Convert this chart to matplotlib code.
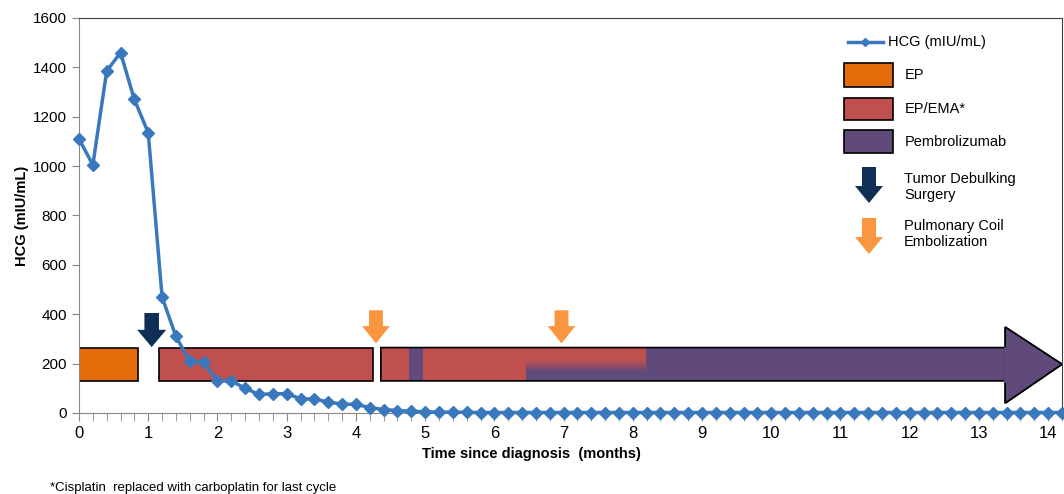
import matplotlib.pyplot as plt
from matplotlib.patches import Polygon, Rectangle
from matplotlib.lines import Line2D
import numpy as np

plt.rcParams['font.family'] = ['Liberation Sans', 'DejaVu Sans']

# HCG measurements, one every 0.2 months
months = [round(0.2 * i, 1) for i in range(72)]
hcg = [1110, 1005, 1385, 1460, 1270, 1135, 470, 310, 210, 205,
       130, 130, 100, 75, 78, 78, 58, 56, 45, 36,
       35, 22, 14, 10, 7, 5, 4, 3, 3, 2] + [2] * 42

# treatment periods (start, end) in months
ep_periods = [(0.0, 0.85)]
epema_periods = [(1.16, 4.25), (4.36, 4.77), (4.97, 6.45)]
pembro_periods = [(4.77, 4.97), (8.18, 13.38)]
overlap_periods = [(6.45, 8.18)]   # EP/EMA fading into pembrolizumab
pembro_ongoing_end = 14.2
surgery_times = [1.05]
embolization_times = [4.29, 6.97]

bar_lo, bar_hi = 130, 265

c_line = '#3A78BD'
c_ep = '#E46C0A'
c_epema = '#C0504D'
c_pembro = '#604A7B'
c_surg = '#0F2F57'
c_emb = '#F9963F'

fig = plt.figure(figsize=(10.64, 4.94), dpi=100)
ax = fig.add_axes([79 / 1064, 1 - 413 / 494, (1062 - 79) / 1064, (413 - 18) / 494])


def down_arrow(xc, top, tip, shaft_w, head_w, head_len):
    neck = tip + head_len
    return [(xc - shaft_w / 2, top), (xc + shaft_w / 2, top), (xc + shaft_w / 2, neck),
            (xc + head_w / 2, neck), (xc, tip), (xc - head_w / 2, neck),
            (xc - shaft_w / 2, neck)]


# therapy bars
for s, e in ep_periods:
    ax.add_patch(Rectangle((s, bar_lo), e - s, bar_hi - bar_lo, fc=c_ep, ec='black', lw=1.2, zorder=2))
first = epema_periods[0]
ax.add_patch(Rectangle((first[0], bar_lo), first[1] - first[0], bar_hi - bar_lo,
                       fc=c_epema, ec='black', lw=1.2, zorder=2))
for s, e in epema_periods[1:]:
    ax.add_patch(Rectangle((s, bar_lo), e - s, bar_hi - bar_lo, fc=c_epema, ec='none', zorder=2))
for s, e in pembro_periods:
    ax.add_patch(Rectangle((s, bar_lo), e - s, bar_hi - bar_lo, fc=c_pembro, ec='none', zorder=2))

# red on top blending down into purple
red = np.array([0xC0, 0x50, 0x4D]) / 255
purple = np.array([0x60, 0x4A, 0x7B]) / 255
levels = np.linspace(bar_hi, bar_lo, 100)
t = np.clip((bar_hi - levels - 50) / 50, 0, 1)[:, None]
grad = (red * (1 - t) + purple * t)[:, None, :]
for s, e in overlap_periods:
    ax.imshow(grad, extent=(s, e, bar_lo, bar_hi), aspect='auto', zorder=2, interpolation='bilinear')

# outline of ongoing bar + arrow head
start2 = epema_periods[1][0]
body_end = pembro_periods[-1][1]
head_lo, head_hi = 40, 348
ax.add_patch(Polygon([(start2, bar_lo), (body_end, bar_lo), (body_end, head_lo),
                      (pembro_ongoing_end, (bar_lo + bar_hi) / 2), (body_end, head_hi),
                      (body_end, bar_hi), (start2, bar_hi)],
                     closed=True, fc='none', ec='black', lw=1.2, zorder=3))
ax.add_patch(Polygon([(body_end, head_lo), (pembro_ongoing_end, (bar_lo + bar_hi) / 2),
                      (body_end, head_hi)], closed=True, fc=c_pembro, ec='black', lw=1.2, zorder=3))
ax.plot([body_end, body_end], [bar_lo, bar_hi], color=c_pembro, lw=2, zorder=3)

# event arrows
for xt in surgery_times:
    ax.add_patch(Polygon(down_arrow(xt, 405, 267, 0.21, 0.42, 70), fc=c_surg, ec='none', zorder=4))
for xt in embolization_times:
    ax.add_patch(Polygon(down_arrow(xt, 416, 282, 0.2, 0.4, 70), fc=c_emb, ec='none', zorder=4))

ax.plot(months, hcg, color=c_line, lw=2.5, marker='D', ms=6, zorder=5, clip_on=False)

ax.set_xlim(0, 14.2)
ax.set_ylim(0, 1600)
ax.set_xticks(range(15))
ax.set_xticks(np.arange(0, 14.21, 0.2), minor=True)
ax.set_yticks(range(0, 1601, 200))
ax.tick_params(axis='x', which='both', direction='out', length=6, color='#888888', labelsize=12, pad=3)
ax.tick_params(axis='y', direction='out', length=5, color='#888888', labelsize=11)
for side in ['left', 'bottom']:
    ax.spines[side].set_color('#888888')
for side in ['top', 'right']:
    ax.spines[side].set_color('#404040')
ax.set_ylabel('HCG (mIU/mL)', fontsize=10.5, fontweight='bold', labelpad=3)
ax.set_xlabel('Time since diagnosis  (months)', fontsize=10.5, fontweight='bold', labelpad=5)
ax.xaxis.set_label_coords(0.46, -0.085)

# legend drawn by hand, positions in pixels
px = fig.dpi_scale_trans


def P(x, y):
    return (x / 100, (494 - y) / 100)


fig.add_artist(Line2D([P(848, 0)[0], P(883, 0)[0]], [P(0, 42)[1]] * 2, color=c_line, lw=2.5, transform=px))
fig.add_artist(Line2D([P(865, 0)[0]], [P(0, 42)[1]], color=c_line, marker='D', ms=4, transform=px))
fig.text(*P(888, 42), 'HCG (mIU/mL)', transform=px, fontsize=10.5, va='center')
for (y0, y1, col, lab) in [(63, 87, c_ep, 'EP'), (98, 120, c_epema, 'EP/EMA*'),
                           (130, 153, c_pembro, 'Pembrolizumab')]:
    fig.add_artist(Rectangle(P(844, y1), 0.49, (y1 - y0) / 100, fc=col, ec='black', lw=1.2, transform=px))
    fig.text(*P(905, (y0 + y1) / 2), lab, transform=px, fontsize=10.5, va='center')


def legend_arrow(xc, top, tip, col):
    pts = [P(x, y) for x, y in down_arrow(xc, top, tip, 14, 28, -17)]
    fig.add_artist(Polygon(pts, fc=col, ec='none', transform=px))


legend_arrow(869, 167, 203, c_surg)
legend_arrow(869, 218, 254, c_emb)
fig.text(*P(904, 187), 'Tumor Debulking\nSurgery', transform=px, fontsize=10.5, va='center')
fig.text(*P(904, 234), 'Pulmonary Coil\nEmbolization', transform=px, fontsize=10.5, va='center')

fig.text(*P(50, 488), '*Cisplatin  replaced with carboplatin for last cycle', transform=px, fontsize=9.5, va='center')

fig.savefig('out.png', dpi=100)
